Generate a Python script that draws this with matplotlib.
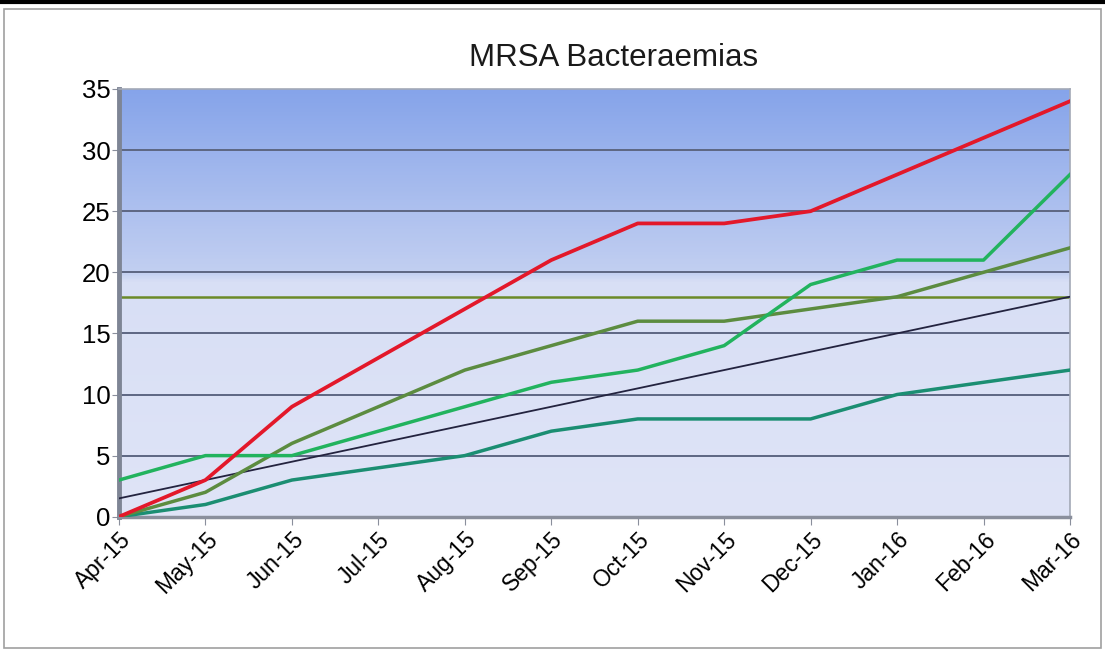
import matplotlib
matplotlib.use("Agg")
import matplotlib.pyplot as plt
import numpy as np
from matplotlib.colors import LinearSegmentedColormap
from matplotlib.lines import Line2D
from matplotlib.patches import Rectangle

plt.rcParams["font.family"] = ["Liberation Sans", "DejaVu Sans"]

months = ["Apr-15", "May-15", "Jun-15", "Jul-15", "Aug-15", "Sep-15",
          "Oct-15", "Nov-15", "Dec-15", "Jan-16", "Feb-16", "Mar-16"]

red_series = [0, 3, 9, 13, 17, 21, 24, 24, 25, 28, 31, 34]
bright_green = [3, 5, 5, 7, 9, 11, 12, 14, 19, 21, 21, 28]
olive_series = [0, 2, 6, 9, 12, 14, 16, 16, 17, 18, 20, 22]
teal_series = [0, 1, 3, 4, 5, 7, 8, 8, 8, 10, 11, 12]
trajectory = [1.5, 3, 4.5, 6, 7.5, 9, 10.5, 12, 13.5, 15, 16.5, 18]
target = 18

fig = plt.figure(figsize=(11.05, 6.52), dpi=100)
ax = fig.add_axes([0.1077, 0.2075, 0.8606, 0.656])

x = np.arange(len(months))

# background gradient (blue at top, pale lavender below ~20)
bg = LinearSegmentedColormap.from_list(
    "bg", [(0.0, "#dfe4f7"), (0.55, "#d8dff5"), (0.572, "#c2cff1"),
           (1.0, "#86a4ea")])
grad = np.linspace(0, 1, 400).reshape(-1, 1)
ax.imshow(grad, cmap=bg, aspect="auto", origin="lower",
          extent=[0, len(months) - 1, 0, 35], zorder=0)

for yv in range(5, 35, 5):
    ax.axhline(yv, color="#5d6682", lw=1.4, zorder=1)

ax.axhline(target, color="#6b8a28", lw=1.8, zorder=2)
ax.plot(x, trajectory, color="#23233f", lw=1.3, zorder=3)
ax.plot(x, teal_series, color="#1b8e72", lw=2.5, zorder=4)
ax.plot(x, olive_series, color="#5c8c40", lw=2.5, zorder=4)
ax.plot(x, bright_green, color="#22b35e", lw=2.5, zorder=5)
ax.plot(x, red_series, color="#e3182a", lw=2.7, zorder=6)

ax.set_xlim(0, len(months) - 1)
ax.set_ylim(0, 35)
ax.set_yticks(range(0, 36, 5))
ax.set_xticks(x)
ax.set_xticklabels(months, rotation=45, ha="right", rotation_mode="anchor")
ax.tick_params(axis="y", labelsize=18.5, length=5, color="#8a8f9c", pad=1)
ax.tick_params(axis="x", labelsize=16.5, length=6, color="#8a8f9c", pad=2)

ax.spines["left"].set_color("#7e8595")
ax.spines["left"].set_linewidth(3.5)
ax.spines["bottom"].set_color("#8a8f9c")
ax.spines["bottom"].set_linewidth(2.5)
for side in ("top", "right"):
    ax.spines[side].set_color("#a3a9b6")
    ax.spines[side].set_linewidth(1.2)

fig.text(0.555, 0.911, "MRSA Bacteraemias", ha="center", va="center",
         fontsize=22.5, color="#1a1a1a")

# outer chart frame
fig.patches.append(Rectangle((0.004, 0.006), 0.992, 0.98, transform=fig.transFigure,
                             fill=False, edgecolor="#a0a0a0", lw=1.2))
fig.lines.append(Line2D([0, 1], [0.997, 0.997], transform=fig.transFigure,
                        color="black", lw=3))

fig.savefig("out.png", dpi=100)
